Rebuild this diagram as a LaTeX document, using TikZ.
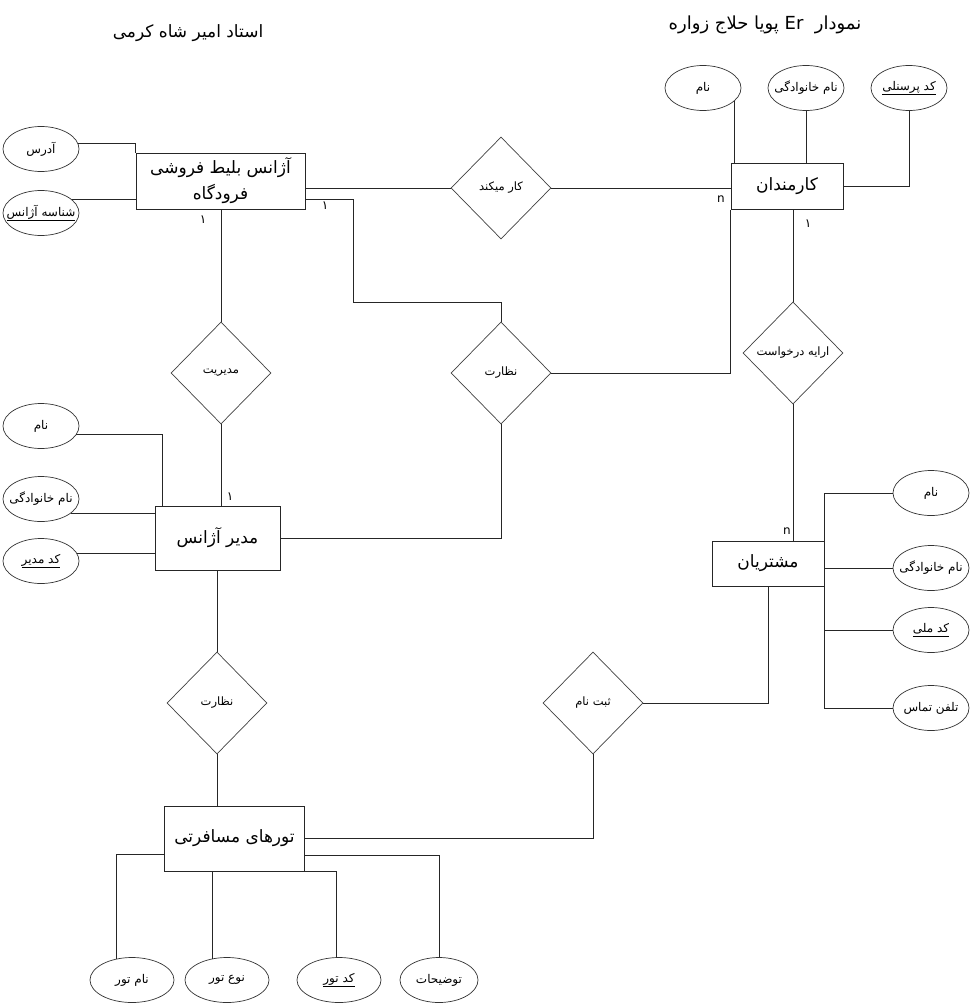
\documentclass[tikz,border=0pt]{standalone}
\usepackage{fontspec}
\usetikzlibrary{shapes.geometric,calc}
\TeXXeTstate=1
\newfontfamily\arabicfont[Script=Arabic]{DejaVu Sans}
\newcommand\fatxt[1]{{\arabicfont\beginR #1\endR}}
\newcommand\attxt[1]{\makebox[0pt]{\arabicfont\beginR #1\endR}}
\newcommand\atul[1]{\makebox[0pt]{\underline{\hbox{\arabicfont\beginR #1\endR}}}}
\begin{document}
\begin{tikzpicture}[x=1pt,y=-1pt,
  entity/.style={draw=black!85,line width=0.8pt,rectangle,inner sep=0pt,font=\fontsize{17}{26}\selectfont,align=center},
  attr/.style={draw=black!80,line width=0.7pt,ellipse,minimum width=76pt,minimum height=45pt,inner sep=0pt,font=\fontsize{12}{14}\selectfont},
  rel/.style={draw=black!75,line width=0.7pt,diamond,minimum width=100pt,minimum height=102pt,inner sep=0pt,font=\fontsize{11.5}{13}\selectfont},
  card/.style={font=\fontsize{12}{14}\selectfont,inner sep=0pt},
  conn/.style={draw=black!85,line width=0.8pt},
  ttl/.style={inner sep=0pt}]
\useasboundingbox (0,0) rectangle (971,1003);

% titles
\node[ttl,font=\fontsize{17}{20}\selectfont] (t1) at (188,33) {\fatxt{استاد امیر شاه کرمی}};
\node[ttl,font=\fontsize{18}{20}\selectfont] (t2) at (765,25) {\fatxt{نمودار \ \beginL Er\endL{} پویا حلاج زواره}};

% entities
\node[entity,minimum width=169pt,minimum height=56pt] (agency) at (220.5,181) {\fatxt{آژانس بلیط فروشی}\\\fatxt{فرودگاه}};
\node[entity,minimum width=112pt,minimum height=46pt] (emp) at (787,186.5) {\fatxt{کارمندان}};
\node[entity,minimum width=125pt,minimum height=64pt] (mgr) at (217.5,538) {\fatxt{مدیر آژانس}};
\node[entity,minimum width=112pt,minimum height=45pt] (cust) at (768,563.5) {\fatxt{مشتریان}};
\node[entity,minimum width=140pt,minimum height=65pt] (tours) at (234.5,838.5) {\fatxt{تورهای مسافرتی}};

% relationships
\node[rel] (kar) at (501,188) {\fatxt{کار میکند}};
\node[rel] (modir) at (221,373) {\fatxt{مدیریت}};
\node[rel] (nez1) at (501,373) {\fatxt{نظارت}};
\node[rel] (araye) at (793,353) {\fatxt{ارایه درخواست}};
\node[rel] (nez2) at (217,703) {\fatxt{نظارت}};
\node[rel] (sabt) at (593,703) {\fatxt{ثبت نام}};

% attributes
\node[attr] (addr) at (41,149) {\attxt{آدرس}};
\node[attr] (aid) at (41,213) {\atul{شناسه آژانس}};
\node[attr] (ename) at (703,88) {\attxt{نام}};
\node[attr] (efam) at (806,88) {\attxt{نام خانوادگی}};
\node[attr] (ecode) at (909,88) {\atul{کد پرسنلی}};
\node[attr] (mname) at (41,426) {\attxt{نام}};
\node[attr] (mfam) at (41,499) {\attxt{نام خانوادگی}};
\node[attr] (mcode) at (41,561) {\atul{کد مدیر}};
\node[attr] (cname) at (931,493) {\attxt{نام}};
\node[attr] (cfam) at (931,568) {\attxt{نام خانوادگی}};
\node[attr] (ccode) at (931,630) {\atul{کد ملی}};
\node[attr] (ctel) at (931,708) {\attxt{تلفن تماس}};
\node[attr,minimum width=84pt] (tname) at (132,980) {\attxt{نام تور}};
\node[attr,minimum width=84pt] (ttype) at (227,980) {\attxt{نوع تور}};
\node[attr,minimum width=84pt] (tcode) at (339,980) {\atul{کد تور}};
\node[attr,minimum width=78pt] (tdesc) at (439,980) {\attxt{توضیحات}};

% connectors
\draw[conn] (addr.8) -| (agency.north west);
\draw[conn] (aid.24) -- (aid.24 -| agency.west);
\draw[conn] (agency.east |- kar.west) -- (kar.west);
\draw[conn] (kar.east) -- (kar.east -| emp.west);
\draw[conn] ($(agency.south east)+(0,-10)$) -- ++(48,0) |- ($(nez1.north)+(0,-19)$) -- (nez1.north);
\draw[conn] (modir.north) -- (modir.north |- agency.south);
\draw[conn] (modir.south) -- (modir.south |- mgr.north);
\draw[conn] (emp.south west) |- (nez1.east);
\draw[conn] (araye.north) -- (araye.north |- emp.south);
\draw[conn] (araye.south) -- (araye.south |- cust.north);
\draw[conn] (nez1.south) |- (mgr.east);
\draw[conn] (mname.-14) -| ($(mgr.north west)+(8,0)$);
\draw[conn] (mfam.-26) -- (mfam.-26 -| mgr.west);
\draw[conn] (mcode.12) -- (mcode.12 -| mgr.west);
\draw[conn] (mgr.south) -- (mgr.south |- nez2.north);
\draw[conn] (nez2.south) -- (nez2.south |- tours.north);
\draw[conn] (tours.east) -| (sabt.south);
\draw[conn] (sabt.east) -| (cust.south);
\draw[conn] (tname.126) |- ($(tours.west)+(0,15.5)$);
\draw[conn] (ttype.124) -- (ttype.124 |- tours.south);
\draw[conn] (tcode.97) |- (tours.south east);
\draw[conn] (tdesc.north) |- ($(tours.east)+(0,16.5)$);
\draw[conn] (cname.west) -| (cust.north east);
\draw[conn] (cfam.west) -- (cfam.west -| cust.east);
\draw[conn] (ccode.west) -| (cust.south east);
\draw[conn] (ctel.west) -| (cust.south east);
\draw[conn] (ename.-22) -- (ename.-22 |- emp.north);
\draw[conn] (efam.south) -- (efam.south |- emp.north);
\draw[conn] (ecode.south) |- (emp.east);

% cardinalities
\node[card] (c1) at (325,206) {\fatxt{۱}};
\node[card] (c2) at (203,220) {\fatxt{۱}};
\node[card] (c3) at (230,497) {\fatxt{۱}};
\node[card] (c4) at (721,199) {{\arabicfont n}};
\node[card] (c5) at (808,224) {\fatxt{۱}};
\node[card] (c6) at (787,531) {{\arabicfont n}};
\end{tikzpicture}
\end{document}
